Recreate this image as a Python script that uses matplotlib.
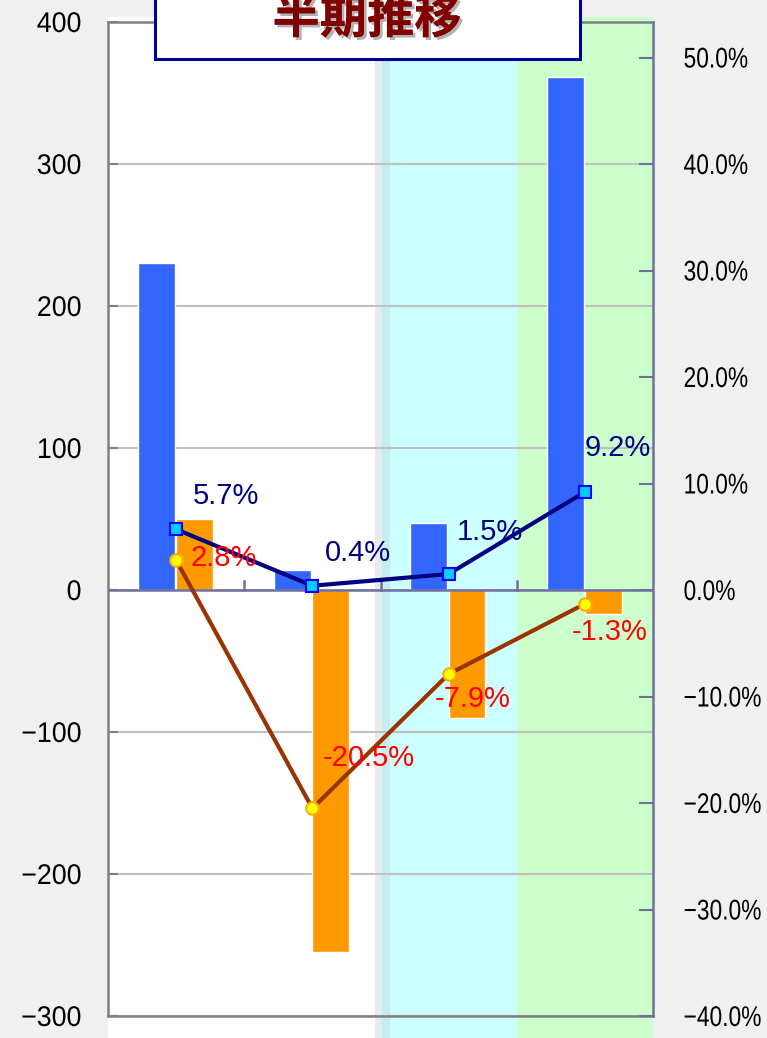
import matplotlib
matplotlib.use("Agg")
import matplotlib.pyplot as plt
import matplotlib.patheffects as pe
from matplotlib.patches import Rectangle
from matplotlib.transforms import blended_transform_factory, Affine2D
import numpy as np

# ---- data ----
categories = ["H1", "H2", "H3", "H4"]
blue_values = [230, 14, 47, 361]
orange_values = [50, -255, -90, -17]
blue_pct = [5.7, 0.4, 1.5, 9.2]
orange_pct = [2.8, -20.5, -7.9, -1.3]
left_ticks = [-300, -200, -100, 0, 100, 200, 300, 400]
right_ticks = [-40, -30, -20, -10, 0, 10, 20, 30, 40, 50]
title = "半期推移"


class XScale(pe.AbstractPathEffect):
    """Horizontally condense text glyphs about their left or right edge."""

    def __init__(self, sx, anchor="left"):
        super().__init__()
        self.sx = sx
        self.anchor = anchor

    def draw_path(self, renderer, gc, tpath, affine, rgbFace=None):
        v = tpath.vertices
        if len(v):
            a = v[:, 0].min() if self.anchor == "left" else v[:, 0].max()
        else:
            a = 0
        t = Affine2D().translate(-a, 0).scale(self.sx, 1).translate(a, 0)
        renderer.draw_path(gc, tpath, t + affine, rgbFace)


# ---- style ----
W, H = 767, 1038
fig = plt.figure(figsize=(W / 100, H / 100), dpi=100)
fig.patch.set_facecolor("#f0f0f0")

ax = fig.add_axes([108 / W, 22 / H, 545 / W, 994 / H])
ax.set_facecolor("none")
ax.set_zorder(1)

x = np.arange(len(categories))
ax.set_xlim(-0.5, len(categories) - 0.5)
ax.set_ylim(-300, 400)

# background regions spanning full height below the top
tr = blended_transform_factory(ax.transData, fig.transFigure)
y0, y1 = 0.0, 1 - 17 / H
bands = [(-0.5, 1.46, "#ffffff"), (1.46, 1.51, "#e6ecec"), (1.51, 1.57, "#c4eeee"),
         (1.57, 2.5, "#ccffff"), (2.5, 3.5, "#ccffcc")]
for a, b, c in bands:
    fig.patches.append(Rectangle((a, y0), b - a, y1 - y0, transform=tr,
                                 facecolor=c, edgecolor="none", zorder=0))

# gridlines
for t in left_ticks:
    ax.axhline(t, color="#c0c0c0", lw=1.5, zorder=1)

bw = 0.27
ax.bar(x - 0.145, blue_values, width=bw, color="#3366ff", edgecolor="white", lw=1, zorder=2)
ax.bar(x + 0.135, orange_values, width=bw, color="#ff9900", edgecolor="white", lw=1, zorder=2)

# zero axis with category separators
ax.axhline(0, color="#7070a0", lw=1.8, zorder=3)
for b in np.arange(0.5, len(categories) - 0.5, 1.0):
    ax.plot([b, b], [0, 6], color="#7070a0", lw=1.8, zorder=3)

tick_font = ["Liberation Sans", "DejaVu Sans"]
ax.set_xticks([])
ax.set_yticks(left_ticks)
ax.set_yticklabels([str(t).replace("-", "\u2212") for t in left_ticks])
ax.tick_params(axis="y", direction="in", length=7, width=1.5, color="#808080",
               labelsize=20.5, pad=19)
for lab in ax.get_yticklabels():
    lab.set_family(tick_font)
    lab.set_path_effects([XScale(0.94, "right")])
for s in ["left", "top", "bottom"]:
    ax.spines[s].set_color("#808080")
    ax.spines[s].set_linewidth(1.8)
ax.spines["right"].set_visible(False)

ax2 = ax.twinx()
ax2.set_ylim(-40, 40 * 4 / 3)
ax2.set_xlim(-0.5, len(categories) - 0.5)
ax2.set_yticks(right_ticks)
ax2.set_yticklabels([f"{t:.1f}%".replace("-", "\u2212") for t in right_ticks])
ax2.tick_params(axis="y", direction="in", length=10, width=1.5, color="#7070a0",
                labelsize=20.5, pad=22)
for lab in ax2.get_yticklabels():
    lab.set_family(tick_font)
    lab.set_path_effects([XScale(0.8, "left")])
for s in ["left", "top", "bottom"]:
    ax2.spines[s].set_visible(False)
ax2.spines["right"].set_color("#7070a0")
ax2.spines["right"].set_linewidth(1.8)

ax2.plot(x, blue_pct, color="#000080", lw=3, marker="s", ms=9, mfc="#00ccff",
         mec="#0000ff", mew=1.5, zorder=5)
ax2.plot(x, orange_pct, color="#993300", lw=3, marker="o", ms=9, mfc="#ffff00",
         mec="#ffaa00", mew=1.5, zorder=5)

blue_off = [(17, 33), (13, 33), (8, 42), (0, 44)]
orange_off = [(14, 2), (10, 50), (-14, -25), (-13, -28)]
lab_font = ["Liberation Sans", "DejaVu Sans"]
for xi, v, off in zip(x, blue_pct, blue_off):
    ax2.annotate(f"{v:.1f}%", (xi, v), xytext=off, textcoords="offset pixels",
                 ha="left", va="center", color="#000080", fontsize=21,
                 family=lab_font, zorder=6)
for xi, v, off in zip(x, orange_pct, orange_off):
    ax2.annotate(f"{v:.1f}%", (xi, v), xytext=off, textcoords="offset pixels",
                 ha="left", va="center", color="#ff0000", fontsize=21,
                 family=lab_font, zorder=6)

# title box
fig.patches.append(Rectangle((155 / W, 1 - 59 / H), 425 / W, 80 / H,
                             transform=fig.transFigure, facecolor="white",
                             edgecolor="#000099", lw=2.2, zorder=10))
fig.text(367 / W, 1 - 19 / H, title, ha="center", va="center", fontsize=34,
         fontweight="bold", color="#800000",
         family=["Noto Sans CJK JP", "DejaVu Sans"], zorder=11,
         path_effects=[pe.withSimplePatchShadow(offset=(2, -2), shadow_rgbFace="#808080",
                                                alpha=0.6), pe.Normal()])

fig.savefig("out.png", dpi=100, facecolor=fig.get_facecolor())
